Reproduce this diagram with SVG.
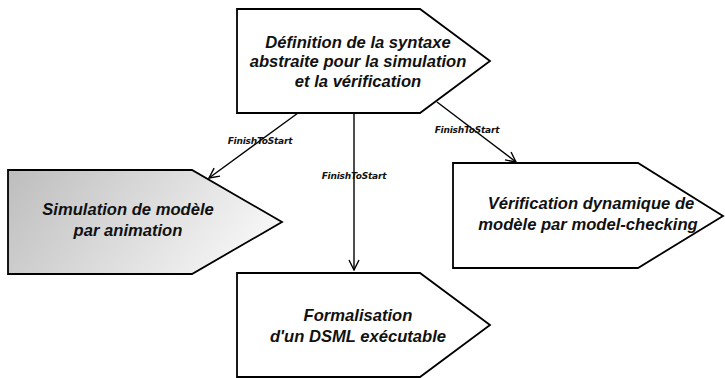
<svg xmlns="http://www.w3.org/2000/svg" width="725" height="378" viewBox="0 0 725 378">
<defs>
<linearGradient id="g1" x1="0" y1="0" x2="1" y2="0.3">
<stop offset="0" stop-color="#bdbdbd"/>
<stop offset="1" stop-color="#f4f4f4"/>
</linearGradient>
<marker id="arr" viewBox="0 0 12 12" refX="11" refY="6" markerWidth="12" markerHeight="12" markerUnits="userSpaceOnUse" orient="auto">
<path d="M1,1 L11,6 L1,11" fill="none" stroke="#000" stroke-width="1.4"/>
</marker>
<style>
.node{fill:#fff;stroke:#000;stroke-width:1.8;stroke-linejoin:miter}
.t{font-family:"Liberation Sans",Arial,sans-serif;font-weight:bold;font-style:italic;font-size:16.6px;text-anchor:middle;fill:#111}
.c{fill:none;stroke:#000;stroke-width:1.4}
.l{font-family:"DejaVu Sans",sans-serif;font-weight:bold;font-style:italic;font-size:9px;text-anchor:middle;fill:#111;letter-spacing:-0.2px}
</style>
</defs>
<rect width="725" height="378" fill="#fff"/>
<g id="connectors">
<line class="c" x1="298" y1="113" x2="209" y2="178" marker-end="url(#arr)"/>
<line class="c" x1="354" y1="113" x2="354" y2="270" marker-end="url(#arr)"/>
<line class="c" x1="437" y1="102" x2="516" y2="162" marker-end="url(#arr)"/>
<text class="l" x="260" y="144">FinishToStart</text>
<text class="l" x="354" y="179">FinishToStart</text>
<text class="l" x="467" y="133">FinishToStart</text>
</g>
<g id="n1">
<polygon class="node" points="237,9 420,9 490,61 420,113 237,113"/>
<text class="t" x="358" y="48">Définition de la syntaxe</text>
<text class="t" x="358" y="67">abstraite pour la simulation</text>
<text class="t" x="358" y="87">et la vérification</text>
</g>
<g id="n2">
<polygon class="node" points="8,170 192,170 282,222 192,274 8,274" style="fill:url(#g1)"/>
<text class="t" x="128" y="215">Simulation de modèle</text>
<text class="t" x="128" y="236">par animation</text>
</g>
<g id="n3">
<polygon class="node" points="453,163 638,163 723,216 638,268 453,268"/>
<text class="t" x="591" y="209">Vérification dynamique de</text>
<text class="t" x="588" y="230">modèle par model-checking</text>
</g>
<g id="n4">
<polygon class="node" points="237,273 420,273 490,325 420,377 237,377"/>
<text class="t" x="358" y="321">Formalisation</text>
<text class="t" x="358" y="342">d'un DSML exécutable</text>
</g>
</svg>
